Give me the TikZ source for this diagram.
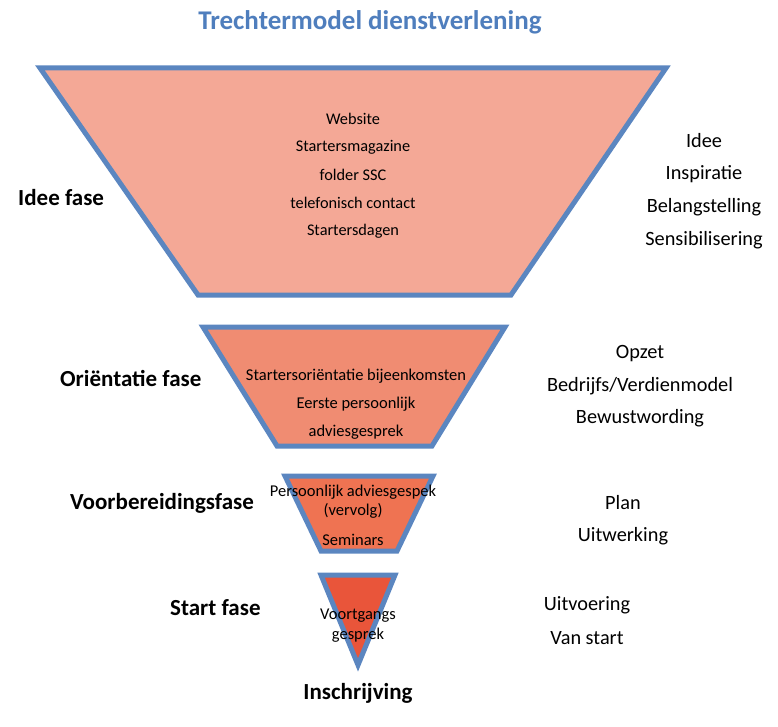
\documentclass[tikz,border=0pt]{standalone}
\usepackage{fontspec}
\setmainfont{Carlito}
\definecolor{edgeblue}{HTML}{5B86C0}
\definecolor{titleblue}{HTML}{4F7EBD}
\definecolor{fillA}{HTML}{F4A896}
\definecolor{fillB}{HTML}{F08C72}
\definecolor{fillC}{HTML}{EF7352}
\definecolor{fillD}{HTML}{E9553A}
\tikzset{
  funnel/.style={draw=edgeblue, line width=5pt, line join=miter},
  phase/.style={font=\fontsize{23}{25}\selectfont\bfseries, inner sep=0pt},
  side/.style={font=\fontsize{20.3}{22}\selectfont, inner sep=0pt},
  inner/.style={font=\fontsize{16.3}{18}\selectfont, inner sep=0pt},
  innerb/.style={font=\fontsize{16.5}{18}\selectfont, inner sep=0pt}
}
\begin{document}
\begin{tikzpicture}[x=1pt,y=-1pt]
\useasboundingbox (0,0) rectangle (778,727);
% funnels
\path[funnel, fill=fillA] (40,68) -- (666,68) -- (511,295) -- (198,295) -- cycle;
\path[funnel, fill=fillB] (203,327) -- (505,327) -- (432,446) -- (277,446) -- cycle;
\path[funnel, fill=fillC] (285,476) -- (433,476) -- (397,551) -- (321,551) -- cycle;
\path[funnel, fill=fillD] (321,575) -- (395,575) -- (358,665) -- cycle;
% title
\node[font=\fontsize{27}{30}\selectfont\bfseries, text=titleblue, inner sep=0pt] (title) at (370,22) {Trechtermodel dienstverlening};
% funnel 1 text
\node[inner] (w1) at (353,119) {Website};
\node[inner] (w2) at (353,147) {Startersmagazine};
\node[inner] (w3) at (353,175) {folder SSC};
\node[inner] (w4) at (353,203) {telefonisch contact};
\node[inner] (w5) at (353,231) {Startersdagen};
% phases
\node[phase, anchor=west] (p1) at (18,198) {Idee fase};
\node[phase, anchor=west] (p2) at (60,378) {Oriëntatie fase};
\node[phase, anchor=west] (p3) at (70,503) {Voorbereidingsfase};
\node[phase, anchor=west] (p4) at (170,608) {Start fase};
\node[phase] (p5) at (358,693) {Inschrijving};
% right side
\node[side] (r1) at (704,141) {Idee};
\node[side] (r2) at (704,174) {Inspiratie};
\node[side] (r3) at (704,207) {Belangstelling};
\node[side] (r4) at (704,240) {Sensibilisering};
\node[side] (r5) at (640,354) {Opzet};
\node[side] (r6) at (640,386) {Bedrijfs/Verdienmodel};
\node[side] (r7) at (640,418) {Bewustwording};
\node[side] (r8) at (623,503) {Plan};
\node[side] (r9) at (623,536) {Uitwerking};
\node[side] (r10) at (587,605) {Uitvoering};
\node[side] (r11) at (587,638) {Van start};
% funnel 2 text
\node[innerb] (o1) at (356,376) {Startersoriëntatie bijeenkomsten};
\node[innerb] (o2) at (356,404) {Eerste persoonlijk};
\node[innerb] (o3) at (356,432) {adviesgesprek};
% funnel 3 text
\node[innerb] (v1) at (353,492) {Persoonlijk adviesgespek};
\node[innerb] (v2) at (353,511) {(vervolg)};
\node[innerb] (v3) at (353,540) {Seminars};
% funnel 4 text
\node[innerb] (s1) at (358,616) {Voortgangs};
\node[innerb] (s2) at (358,635) {gesprek};
\end{tikzpicture}
\end{document}
